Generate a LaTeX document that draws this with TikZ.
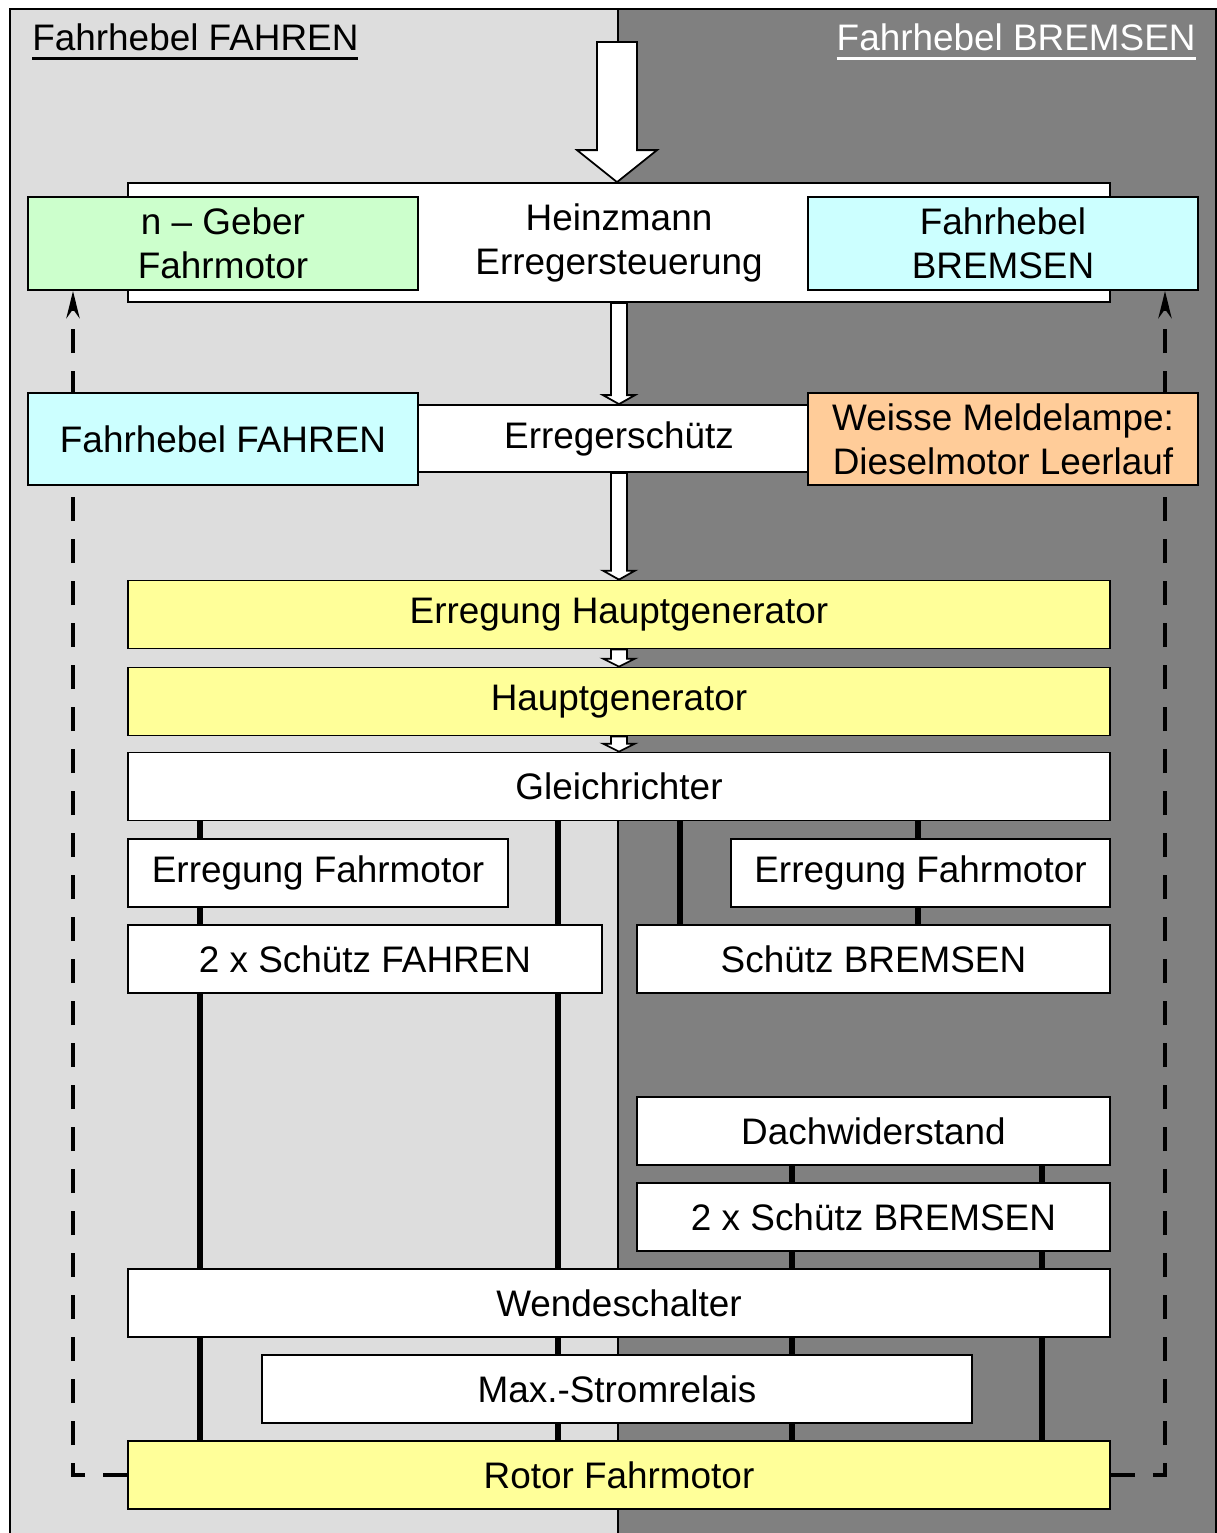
\documentclass[tikz,border=0pt]{standalone}
\usepackage{fontspec}
\setmainfont{Liberation Sans}
\usetikzlibrary{positioning,arrows.meta,calc}
\definecolor{fahrpanel}{HTML}{DDDDDD}
\definecolor{bremspanel}{HTML}{808080}
\definecolor{geber}{HTML}{CCFFCC}
\definecolor{hebel}{HTML}{CCFFFF}
\definecolor{lampe}{HTML}{FFCC99}
\definecolor{gen}{HTML}{FFFF99}
\pgfdeclarelayer{panels}
\pgfdeclarelayer{wires}
\pgfsetlayers{panels,wires,main}
\tikzset{
  >=Stealth,
  box/.style={
    draw,
    fill=white,
    line width=1pt,
    inner sep=0pt,
    align=center,
    minimum height=13.6mm
  },
  wide/.style={box, minimum width=196.4mm},
  side/.style={box, minimum width=78mm, minimum height=18.6mm},
  bus/.style={line width=3.4pt},
  feedback/.style={
    line width=2.8pt,
    dash pattern=on 4.8mm off 3.6mm,
    -{Stealth[length=5.4mm, width=2.6mm]}
  },
  heading/.style={inner sep=0pt}
}
\newcommand\blockarrow[5]{%
  \filldraw[fill=white, line width=1pt] let \p1=(#1), \p2=(#2) in
    (\x1-#3,\y1) -- (\x1-#3,\y2+#5) -- (\x1-#4,\y2+#5) -- (\x1,\y2)
    -- (\x1+#4,\y2+#5) -- (\x1+#3,\y2+#5) -- (\x1+#3,\y1) -- cycle;}
\newcommand\headline[1]{%
  \setbox0\hbox{#1}\rlap{\rule[-5.6pt]{\wd0}{1.6pt}}\box0}

\begin{document}
\begin{tikzpicture}[x=0.2mm, y=-0.2mm, font=\fontsize{21}{25}\selectfont]
  \useasboundingbox (0,0) rectangle (1217,1533);
  \begin{pgfonlayer}{panels}
    \fill[fahrpanel] (10,9) rectangle (618,1533);
    \fill[bremspanel] (618,9) rectangle (1216,1533);
    \draw[line width=0.8pt] (618,9) -- (618,1533);
    \draw[line width=1.7pt] (10,1533) |- (1216,9) -- (1216,1533);
  \end{pgfonlayer}

  \node[heading, anchor=base west] (tfahren) at (32,50) {\headline{Fahrhebel FAHREN}};
  \node[heading, anchor=base east, text=white] (tbremsen) at (1196,50) {\headline{Fahrhebel BREMSEN}};

  \node[wide, minimum height=23.8mm] (heinz) at (619,242.5) {Heinzmann\\Erregersteuerung};
  \node[side, fill=geber] (ngeber) at (223,243.5) {n -- Geber\\Fahrmotor};
  \node[side, fill=hebel] (hbremsen) at (1003,243.5) {Fahrhebel\\BREMSEN};

  \node[wide, minimum height=13.4mm] (erreg) at (619,438.5) {Erregerschütz};
  \node[side, fill=hebel, minimum height=18.4mm] (hfahren) at (223,439) {Fahrhebel FAHREN};
  \node[side, fill=lampe, minimum height=18.4mm] (meldelampe) at (1003,439) {Weisse Meldelampe:\\Dieselmotor Leerlauf};

  \node[wide, fill=gen] (erregHG) at (619,614.5) {Erregung Hauptgenerator};
  \node[wide, fill=gen] (hauptgen) at (619,701.5) {Hauptgenerator};
  \node[wide] (gleichr) at (619,786.5) {Gleichrichter};

  \node[box, minimum width=76mm] (erregFMl) at (318,873) {Erregung Fahrmotor};
  \node[box, minimum width=75.8mm] (erregFMr) at (920.5,873) {Erregung Fahrmotor};
  \node[box, minimum width=94.8mm] (schuetzF) at (365,959) {2 x Schütz FAHREN};
  \node[box, minimum width=94.6mm] (schuetzB) at (873.5,959) {Schütz BREMSEN};

  \node[box, minimum width=94.6mm] (dach) at (873.5,1131) {Dachwiderstand};
  \node[box, minimum width=94.6mm] (schuetzB2) at (873.5,1217) {2 x Schütz BREMSEN};
  \node[wide] (wende) at (619,1303) {Wendeschalter};
  \node[box, minimum width=142mm] (maxrelais) at (617,1389) {Max.-Stromrelais};
  \node[wide, fill=gen] (rotor) at (619,1475) {Rotor Fahrmotor};

  \coordinate (einspeisung) at (617,42);
  \coordinate (b1) at (200,0);
  \coordinate (b2) at (558,0);
  \coordinate (b3) at (680,0);
  \coordinate (b4) at (918,0);
  \coordinate (b5) at (792,0);
  \coordinate (b6) at (1042,0);
  \coordinate (rueckL) at (73,0);
  \coordinate (rueckR) at (1165,0);

  \begin{pgfonlayer}{wires}
    \draw[bus] (gleichr.south -| b1) -- (rotor.north -| b1);
    \draw[bus] (gleichr.south -| b2) -- (rotor.north -| b2);
    \draw[bus] (gleichr.south -| b3) -- (schuetzB.north -| b3);
    \draw[bus] (gleichr.south -| b4) -- (schuetzB.north -| b4);
    \draw[bus] (dach.south -| b5) -- (rotor.north -| b5);
    \draw[bus] (dach.south -| b6) -- (rotor.north -| b6);
    \draw[feedback] (rotor.west) -| (ngeber.south -| rueckL);
    \draw[feedback] (rotor.east) -| (hbremsen.south -| rueckR);
  \end{pgfonlayer}

  \blockarrow{einspeisung}{heinz.north -| einspeisung}{4mm}{8mm}{6.4mm}
  \blockarrow{heinz.south}{erreg.north}{1.6mm}{3.2mm}{1.8mm}
  \blockarrow{erreg.south}{erregHG.north}{1.6mm}{3.2mm}{1.8mm}
  \blockarrow{erregHG.south}{hauptgen.north}{1.6mm}{3.2mm}{1.6mm}
  \blockarrow{hauptgen.south}{gleichr.north}{1.6mm}{3.2mm}{1.6mm}
\end{tikzpicture}
\end{document}
